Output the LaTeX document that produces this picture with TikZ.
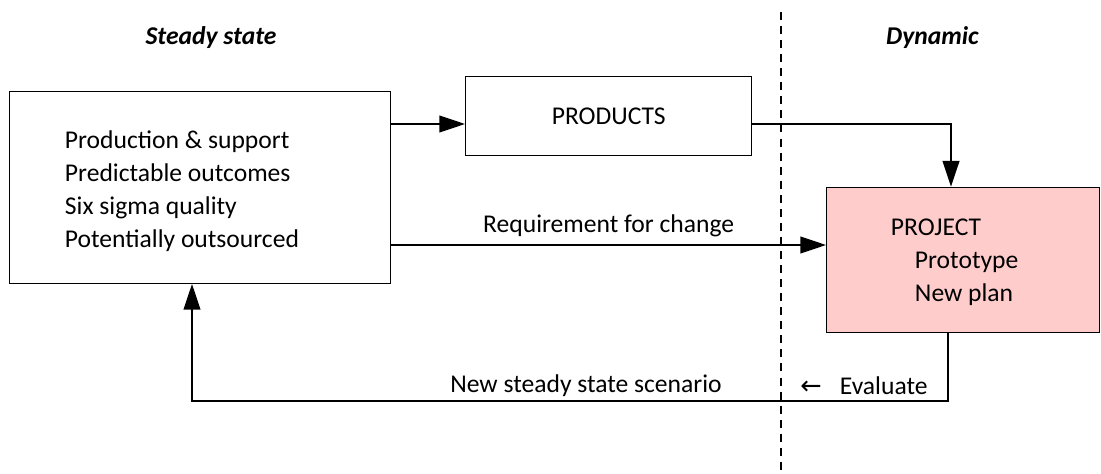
\documentclass[tikz,border=0pt]{standalone}
\usepackage{fontspec}
\setmainfont{Carlito}
\newfontfamily\arrowfont{DejaVu Sans}
\usetikzlibrary{arrows.meta,positioning,calc}
\definecolor{ProjPink}{HTML}{FFCCCC}

\begin{document}
\begin{tikzpicture}[
  box/.style={draw, line width=1pt, anchor=south west, inner sep=0pt},
  txt/.style={font=\fontsize{18.2}{23.5}\selectfont, align=left},
  head/.style={font=\fontsize{18.2}{23.5}\selectfont\bfseries\itshape},
  flow/.style={->, line width=1pt},
  divider/.style={line width=1pt, dash pattern=on 5.7pt off 4.3pt},
  >={Triangle[length=0.64cm, width=0.42cm]}
]
  \useasboundingbox (0,0) rectangle (27.525,11.825);

  % column headings and the split between them
  \node[head] (steady) at (5.275,10.875) {Steady state};
  \node[head] (dyn) at (23.31,10.875) {Dynamic};
  \draw[divider] (19.525,11.525) -- (19.525,0);

  % operations box
  \node[box, minimum width=9.525cm, minimum height=4.8cm] (ops) at (0.225,4.725) {};
  \node[txt, anchor=west] (opstxt) at (1.5,7.05)
    {Production \& support\\Predictable outcomes\\Six sigma quality\\Potentially outsourced};

  % products
  \node[box, minimum width=7.15cm, minimum height=1.975cm, txt] (prod) at (11.625,7.925)
    {PRODUCTS};

  % project
  \node[box, fill=ProjPink, minimum width=6.825cm, minimum height=3.625cm] (proj) at (20.65,3.5) {};
  \node[txt, anchor=west] (projtxt) at (22.15,5.2625)
    {PROJECT\\\hspace*{0.6cm}Prototype\\\hspace*{0.6cm}New plan};

  % connectors
  \coordinate (outrow) at (0,8.725);
  \coordinate (reqrow) at (0,5.7);
  \coordinate (backrow) at (0,1.8);
  \coordinate (dropcol) at (23.775,0);
  \coordinate (backcol) at (23.7,0);
  \coordinate (upcol) at (4.8,0);

  \draw[flow] (ops.east |- outrow) -- (prod.west |- outrow);
  \draw[flow] (prod.east |- outrow) -| (proj.north -| dropcol);
  \draw[flow] (ops.east |- reqrow) -- (proj.west |- reqrow)
    node[midway, above=2pt, txt] (req) {Requirement for change};
  \draw[flow] (proj.south -| backcol) |- (upcol |- backrow) -- (ops.south -| upcol);

  \node[txt] (scen) at (14.65,2.175) {New steady state scenario};
  \node[txt] (eval) at (21.6,2.175) {{\arrowfont ←}\hspace{0.45cm}Evaluate};
\end{tikzpicture}
\end{document}
